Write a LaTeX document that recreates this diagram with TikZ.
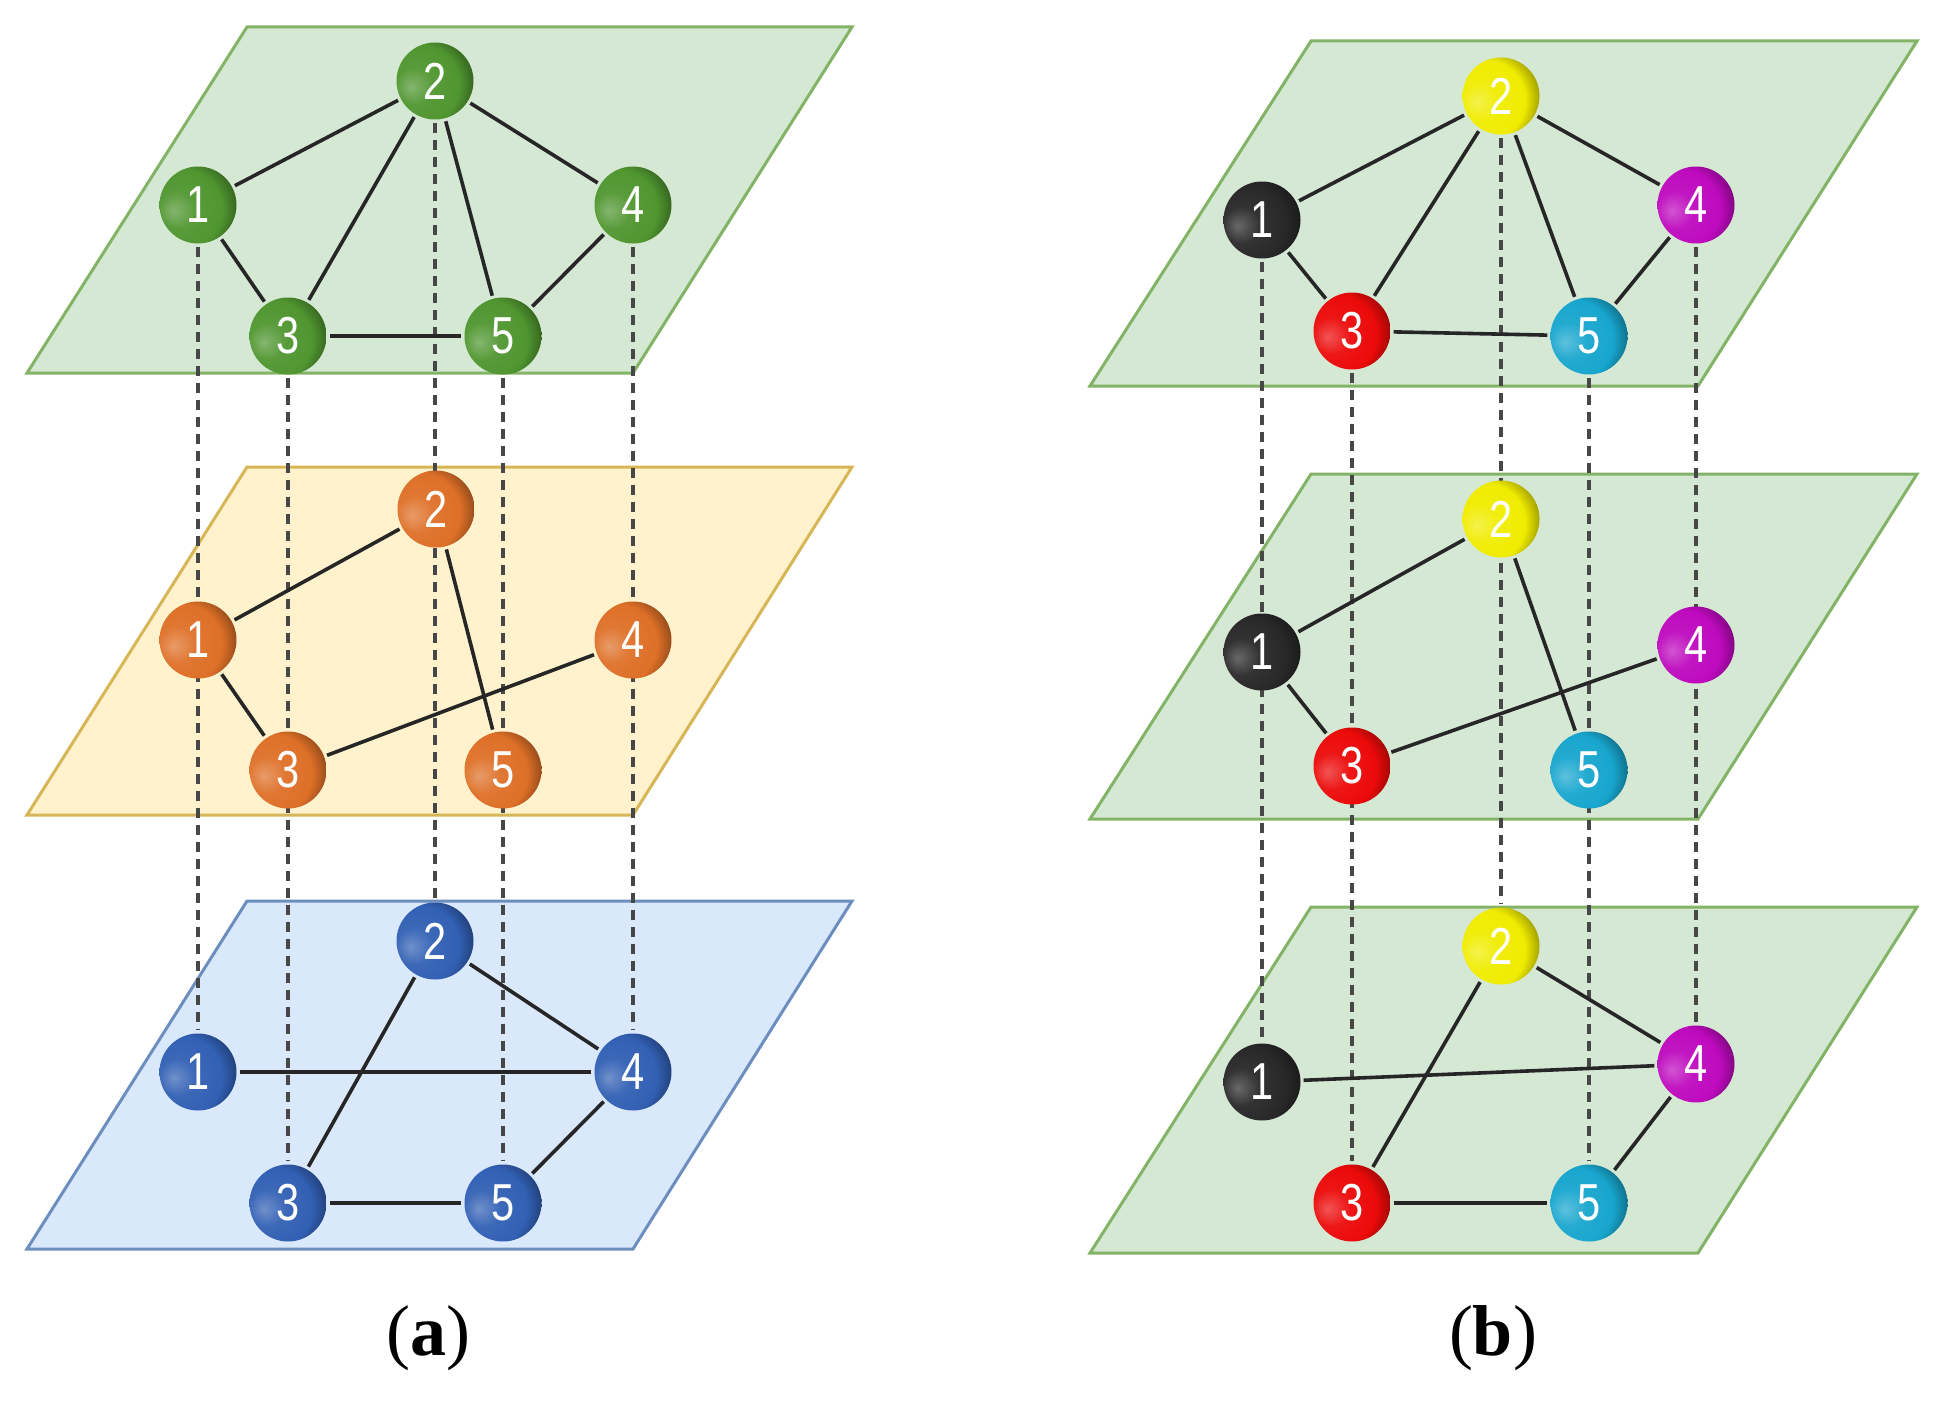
\documentclass[tikz,border=0pt]{standalone}
\usepackage{fontspec}
\newfontfamily\numfont{Liberation Sans}
\newfontfamily\capfont{Liberation Serif}
\definecolor{gfill}{HTML}{D5E8D4}\definecolor{gline}{HTML}{82B366}
\definecolor{ofill}{HTML}{FFF2CC}\definecolor{oline}{HTML}{D6B656}
\definecolor{bfill}{HTML}{DAE8FC}\definecolor{bline}{HTML}{6C8EBF}
\definecolor{cgreen}{RGB}{80,150,48}
\definecolor{corange}{RGB}{222,112,40}
\definecolor{cblue}{RGB}{50,96,180}
\definecolor{cblack}{RGB}{40,40,40}
\definecolor{cyellow}{RGB}{240,236,0}
\definecolor{cred}{RGB}{236,10,10}
\definecolor{cmag}{RGB}{190,10,190}
\definecolor{ccyan}{RGB}{24,166,206}
\colorlet{bc}{cgreen}
\pgfdeclareradialshading[bc]{myball}{\pgfpoint{-16bp}{-4bp}}{%
 color(0bp)=(bc!70!white); color(12bp)=(bc!95!white); color(26bp)=(bc);
 color(40bp)=(bc!45!black); color(52bp)=(bc!20!black); color(75bp)=(bc!20!black)}
\pgfdeclarelayer{planes}
\pgfdeclarelayer{links}
\pgfsetlayers{planes,links,main}
\tikzset{
 plane/.style={line width=3pt},
 sph/.style={circle, minimum size=77pt, inner sep=0pt, shading=myball,
   setbc={#1}, text=white, font=\numfont\fontsize{52}{52}\selectfont},
 setbc/.code={\colorlet{bc}{#1}},
 edge/.style={line width=3.6pt, black!85, shorten <=3pt, shorten >=3pt},
 vdash/.style={line width=3.4pt, black!72, dash pattern=on 10pt off 7pt, shorten <=3pt, shorten >=3pt},
 caption/.style={font=\capfont\fontsize{72}{72}\selectfont}
}
\newcommand{\lab}[1]{\scalebox{0.8}[1]{#1}}
\begin{document}
\begin{tikzpicture}[x=1pt,y=-1pt]
\useasboundingbox (0,0) rectangle (1936,1402);
\begin{pgfonlayer}{planes}
% ---------- planes (a)
\draw[plane, fill=gfill, draw=gline] (247,27) -- (852,27) -- (633,373) -- (27,373) -- cycle;
\draw[plane, fill=ofill, draw=oline] (247,467) -- (852,467) -- (633,815) -- (27,815) -- cycle;
\draw[plane, fill=bfill, draw=bline] (247,901) -- (852,901) -- (633,1249) -- (27,1249) -- cycle;
% ---------- planes (b)
\draw[plane, fill=gfill, draw=gline] (1311,41) -- (1917,41) -- (1698,386) -- (1090,386) -- cycle;
\draw[plane, fill=gfill, draw=gline] (1311,474) -- (1917,474) -- (1698,819) -- (1090,819) -- cycle;
\draw[plane, fill=gfill, draw=gline] (1311,907) -- (1917,907) -- (1698,1253) -- (1090,1253) -- cycle;
\end{pgfonlayer}
% ---------- nodes (a)
\node[sph=cgreen] (At1) at (198,205) {\lab{1}};
\node[sph=cgreen] (At2) at (435,81) {\lab{2}};
\node[sph=cgreen] (At3) at (288,336) {\lab{3}};
\node[sph=cgreen] (At4) at (633,205) {\lab{4}};
\node[sph=cgreen] (At5) at (503,336) {\lab{5}};
\node[sph=corange] (Am1) at (198,640) {\lab{1}};
\node[sph=corange] (Am2) at (436,509) {\lab{2}};
\node[sph=corange] (Am3) at (288,770) {\lab{3}};
\node[sph=corange] (Am4) at (633,640) {\lab{4}};
\node[sph=corange] (Am5) at (503,770) {\lab{5}};
\node[sph=cblue] (Ab1) at (198,1072) {\lab{1}};
\node[sph=cblue] (Ab2) at (435,941) {\lab{2}};
\node[sph=cblue] (Ab3) at (288,1203) {\lab{3}};
\node[sph=cblue] (Ab4) at (633,1072) {\lab{4}};
\node[sph=cblue] (Ab5) at (503,1203) {\lab{5}};
% ---------- nodes (b)
\node[sph=cblack] (Bt1) at (1262,220) {\lab{1}};
\node[sph=cyellow] (Bt2) at (1501,96) {\lab{2}};
\node[sph=cred] (Bt3) at (1352,331) {\lab{3}};
\node[sph=cmag] (Bt4) at (1696,205) {\lab{4}};
\node[sph=ccyan] (Bt5) at (1589,336) {\lab{5}};
\node[sph=cblack] (Bm1) at (1262,652) {\lab{1}};
\node[sph=cyellow] (Bm2) at (1501,519) {\lab{2}};
\node[sph=cred] (Bm3) at (1352,766) {\lab{3}};
\node[sph=cmag] (Bm4) at (1696,645) {\lab{4}};
\node[sph=ccyan] (Bm5) at (1589,770) {\lab{5}};
\node[sph=cblack] (Bb1) at (1262,1082) {\lab{1}};
\node[sph=cyellow] (Bb2) at (1501,946) {\lab{2}};
\node[sph=cred] (Bb3) at (1352,1203) {\lab{3}};
\node[sph=cmag] (Bb4) at (1696,1064) {\lab{4}};
\node[sph=ccyan] (Bb5) at (1589,1203) {\lab{5}};
% ---------- connectors, behind the balls
\begin{pgfonlayer}{links}
\foreach \p in {A,B}{
 \foreach \i in {1,...,5}{
   \draw[vdash] (\p t\i) -- (\p b\i);
 }
 \draw[edge] (\p t1) -- (\p t2);
 \draw[edge] (\p t2) -- (\p t4);
 \draw[edge] (\p t2) -- (\p t3);
 \draw[edge] (\p t2) -- (\p t5);
 \draw[edge] (\p t1) -- (\p t3);
 \draw[edge] (\p t3) -- (\p t5);
 \draw[edge] (\p t4) -- (\p t5);
 \draw[edge] (\p m1) -- (\p m2);
 \draw[edge] (\p m2) -- (\p m5);
 \draw[edge] (\p m1) -- (\p m3);
 \draw[edge] (\p m3) -- (\p m4);
 \draw[edge] (\p b2) -- (\p b4);
 \draw[edge] (\p b2) -- (\p b3);
 \draw[edge] (\p b1) -- (\p b4);
 \draw[edge] (\p b3) -- (\p b5);
 \draw[edge] (\p b4) -- (\p b5);
}
\end{pgfonlayer}
% ---------- captions
\node[caption] (capa) at (428,1338) {(\textbf{a})};
\node[caption] (capb) at (1493,1338) {(\textbf{b})};
\end{tikzpicture}
\end{document}
